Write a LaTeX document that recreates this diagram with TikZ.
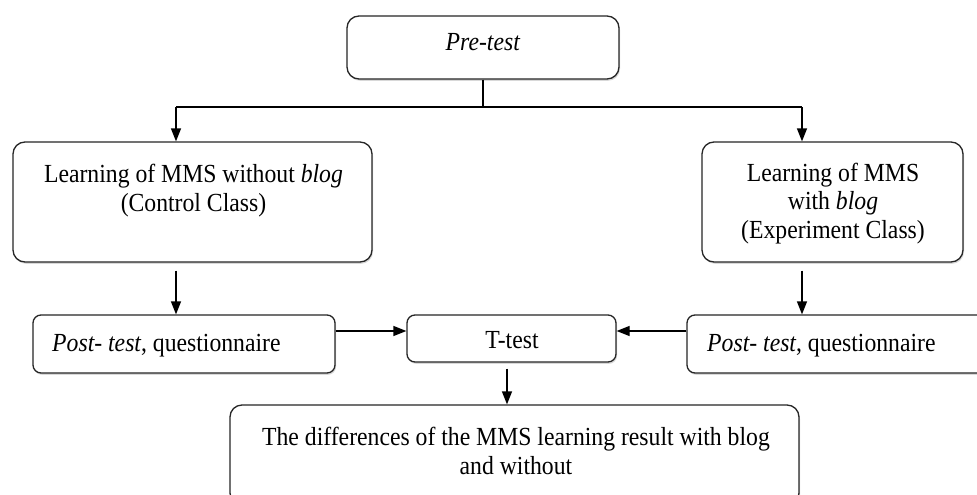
\documentclass[tikz,border=0pt]{standalone}
\usepackage{fontspec}
\setmainfont{Liberation Serif}
\usetikzlibrary{arrows.meta,shadows}
\newcommand{\vtxt}[1]{\scalebox{1}[1.1]{\begin{tabular}{@{}c@{}}#1\end{tabular}}}
\tikzset{
  box/.style={draw=black!85, line width=1.3pt, fill=white, rounded corners=12pt,
    inner sep=0pt, anchor=center,
    drop shadow={shadow xshift=1pt, shadow yshift=-1.8pt, fill=black!30}},
  smallbox/.style={box, rounded corners=8pt},
  txt/.style={inner sep=0pt, font=\fontsize{23.7}{26}\selectfont},
  conn/.style={line width=1.3pt, black},
  arr/.style={conn, -{Triangle[length=13pt,width=10pt]}}
}
\begin{document}
\begin{tikzpicture}[x=1pt,y=-1pt]
\useasboundingbox (0,0) rectangle (977,495);
\clip (0,0) rectangle (977,495);
\fill[white] (0,0) rectangle (977,495);
% boxes
\node[box, minimum width=272pt, minimum height=63pt] (Pre) at (483,47.5) {};
\node[box, minimum width=359pt, minimum height=120pt] (L) at (192.5,202) {};
\node[box, minimum width=261pt, minimum height=120pt] (R) at (832.5,202) {};
\node[smallbox, minimum width=302pt, minimum height=58pt] (PL) at (184,344) {};
\node[smallbox, minimum width=209pt, minimum height=47pt] (TT) at (511.5,338.5) {};
\node[smallbox, minimum width=313pt, minimum height=58pt] (PR) at (843.5,344) {};
\node[box, minimum width=569pt, minimum height=100pt] (B) at (514.5,455) {};
% texts
\node[txt] (Pret) at (483,45) {\vtxt{\textit{Pre-test}}};
\node[txt] (Lt) at (193.5,191) {\vtxt{Learning of MMS without \textit{blog}\\(Control Class)}};
\node[txt] (Rt) at (833,204) {\vtxt{Learning of MMS\\with \textit{blog}\\(Experiment Class)}};
\node[txt, anchor=west] (PLt) at (52,346) {\vtxt{\textit{Post- test}, questionnaire}};
\node[txt] (TTt) at (512,342.5) {\vtxt{T-test}};
\node[txt, anchor=west] (PRt) at (707,346) {\vtxt{\textit{Post- test}, questionnaire}};
\node[txt] (Bt) at (516,454) {\vtxt{The differences of the MMS learning result with blog\\and without}};
% connectors
\coordinate (jl) at (176,107);
\coordinate (jr) at (802,107);
\coordinate (hy) at (0,331);
\coordinate (tx) at (507,0);
\draw[conn] (Pre.south) -- (Pre.south |- jl);
\draw[conn] (jl) -- (jr);
\draw[arr] (jl) -- (jl |- L.north);
\draw[arr] (jr) -- (jr |- R.north);
\draw[arr, shorten <=8pt] (L.south -| jl) -- (PL.north -| jl);
\draw[arr, shorten <=8pt] (R.south -| jr) -- (PR.north -| jr);
\draw[arr] (PL.east |- hy) -- (TT.west |- hy);
\draw[arr] (PR.west |- hy) -- (TT.east |- hy);
\draw[arr, shorten <=6pt] (TT.south -| tx) -- (B.north -| tx);
\end{tikzpicture}
\end{document}
